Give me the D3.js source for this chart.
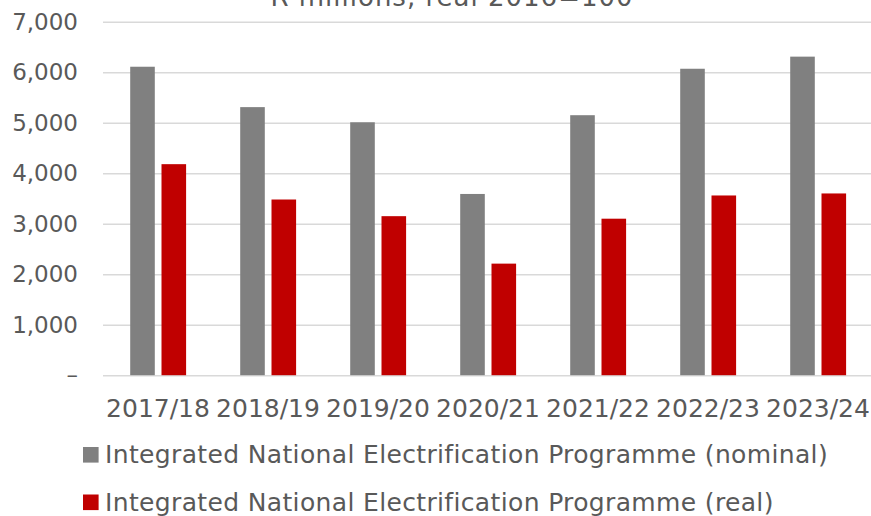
<!DOCTYPE html>
<html>
<head>
<meta charset="utf-8">
<script src="https://cdn.jsdelivr.net/npm/d3@7"></script>
<style>
  body { margin: 0; background: #fff; }
  text { font-family: "DejaVu Sans", sans-serif; fill: #595959; }
</style>
</head>
<body>
<svg id="chart" width="871" height="516"></svg>
<script>
const years = ["2017/18", "2018/19", "2019/20", "2020/21", "2021/22", "2022/23", "2023/24"];
const seriesNames = [
  "Integrated National Electrification Programme (nominal)",
  "Integrated National Electrification Programme (real)"
];
const nominal = [6110, 5310, 5010, 3590, 5150, 6070, 6310];
const real = [4180, 3480, 3150, 2210, 3100, 3560, 3600];
const yTicks = [0, 1000, 2000, 3000, 4000, 5000, 6000, 7000];
const colors = ["#808080", "#c00000"];
const title = "R millions, real 2016=100";

const svg = d3.select("#chart");
const plotLeft = 103, plotRight = 873, plotTop = 21.8, plotBottom = 375.2;

const x0 = d3.scaleBand().domain(years).range([plotLeft, plotRight]);
const x1 = d3.scaleBand().domain([0, 1]).range([27.2, 83.1]).paddingInner(0.214);
const y = d3.scaleLinear().domain([0, 7000]).range([plotBottom, plotTop]);

// gridlines
svg.append("g")
  .attr("transform", `translate(${plotLeft},0)`)
  .call(d3.axisLeft(y).tickValues(yTicks).tickSize(-(plotRight - plotLeft)).tickFormat(""))
  .call(g => g.select(".domain").remove())
  .call(g => g.selectAll("line").attr("stroke", "#d9d9d9").attr("stroke-width", 1.5));

// y labels
svg.append("g")
  .attr("transform", `translate(${plotLeft},0)`)
  .call(d3.axisLeft(y).tickValues(yTicks).tickSize(0).tickPadding(25)
    .tickFormat(d => d === 0 ? "–" : d3.format(",")(d)))
  .call(g => g.select(".domain").remove())
  .call(g => g.selectAll("text").attr("font-size", 23).attr("fill", "#595959").attr("font-family", null));

// bars
const data = years.map((yr, i) => ({ yr, vals: [nominal[i], real[i]] }));
svg.append("g").selectAll("g")
  .data(data)
  .join("g")
  .attr("transform", d => `translate(${x0(d.yr)},0)`)
  .selectAll("rect")
  .data(d => d.vals.map((v, k) => ({ v, k })))
  .join("rect")
  .attr("x", d => x1(d.k))
  .attr("width", x1.bandwidth())
  .attr("y", d => y(d.v))
  .attr("height", d => y(0) - y(d.v))
  .attr("fill", d => colors[d.k]);

// x labels
svg.append("g")
  .attr("transform", `translate(0,${plotBottom})`)
  .call(d3.axisBottom(x0).tickSize(0).tickPadding(23.8))
  .call(g => g.select(".domain").remove())
  .call(g => g.selectAll("text").attr("font-size", 25).attr("fill", "#595959").attr("font-family", null));

// title (cut off at top, as in the original)
svg.append("text")
  .attr("x", 452).attr("y", 5.7)
  .attr("text-anchor", "middle")
  .attr("font-size", 26)
  .attr("letter-spacing", 1)
  .text(title);

// legend
const legend = svg.append("g").selectAll("g")
  .data(seriesNames)
  .join("g")
  .attr("transform", (d, i) => `translate(83,${447 + i * 47.5})`);
legend.append("rect").attr("width", 15.6).attr("height", 15.6).attr("fill", (d, i) => colors[i]);
legend.append("text").attr("x", 22).attr("y", 16.3)
  .attr("font-size", 25).attr("letter-spacing", 0.35)
  .text(d => d);
</script>
</body>
</html>
